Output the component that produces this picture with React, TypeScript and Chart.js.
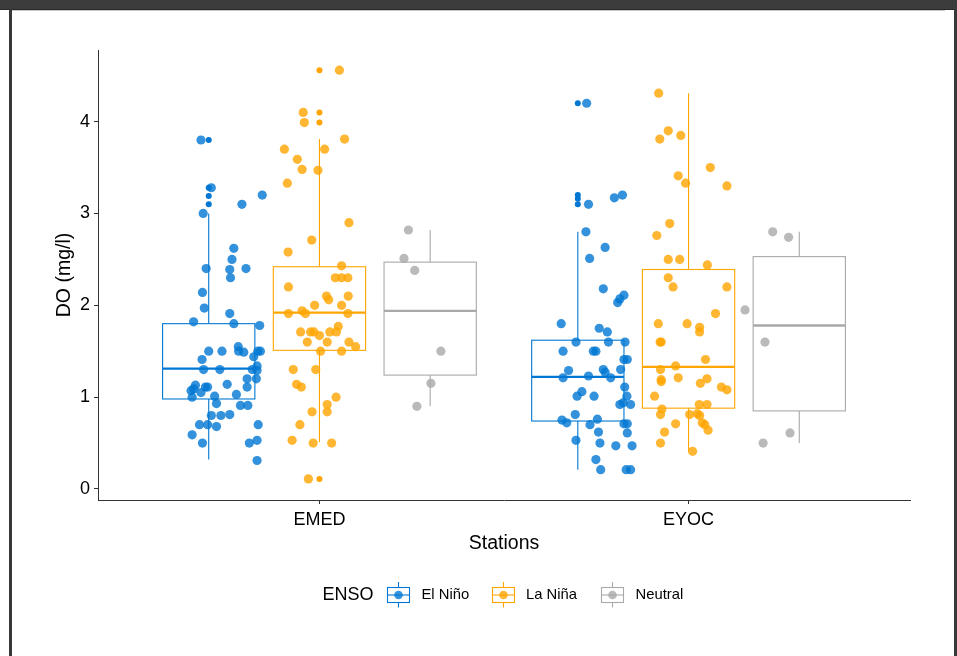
import React, { useEffect, useRef } from "react";
import { Chart, registerables } from "chart.js";

Chart.register(...registerables);

// ---------- data ----------
const stations = ["EMED", "EYOC"];
const ensoGroups = ["El Niño", "La Niña", "Neutral"];
const ensoColors = ["#0077D2", "#FFA500", "#A9A9A9"];
const ensoPointColors = ["rgba(0,119,210,0.8)", "rgba(255,165,0,0.8)", "rgba(169,169,169,0.8)"];
const yTickValues = [0, 1, 2, 3, 4];
const yLabel = "DO (mg/l)";
const xLabel = "Stations";
const legendTitle = "ENSO";

// box statistics: [group][station]  (station 0 = EMED, 1 = EYOC)
const whiskerLow = [[0.32, 0.21], [0.51, 0.41], [0.9, 0.5]];
const quartile1 = [[0.98, 0.74], [1.51, 0.88], [1.24, 0.85]];
const medians = [[1.31, 1.22], [1.92, 1.33], [1.94, 1.78]];
const quartile3 = [[1.8, 1.62], [2.42, 2.39], [2.47, 2.53]];
const whiskerHigh = [[3.0, 2.8], [3.81, 4.31], [2.82, 2.8]];
const outliersEMED = [[3.8, 3.28, 3.19, 3.1], [4.56, 4.1, 3.99, 0.11], []];
const outliersEYOC = [[4.2, 3.2, 3.16, 3.1], [], []];

// jittered observations (DO value, jitter offset in category units)
const emedElNinoDO = [3.8, 3.28, 3.2, 3.1, 3.0, 2.62, 2.5, 2.4, 2.39, 2.4, 2.3, 2.14, 1.97, 1.91, 1.82, 1.8, 1.78, 1.5, 1.5, 1.55, 1.5, 1.49, 1.5, 1.5, 1.44, 1.41, 1.3, 1.3, 1.3, 1.34, 1.29, 1.2, 1.2, 1.11, 1.13, 1.09, 1.07, 1.11, 1.11, 1.05, 1.0, 1.14, 1.03, 1.01, 0.93, 0.91, 0.91, 0.8, 0.8, 0.81, 0.7, 0.7, 0.68, 0.7, 0.59, 0.5, 0.5, 0.53, 0.31];
const emedElNinoJitter = [-0.021, 0.007, 0.145, 0.09, -0.015, 0.068, 0.063, -0.007, 0.057, 0.101, 0.059, -0.017, -0.012, 0.057, -0.041, 0.068, 0.138, 0.0, 0.036, 0.08, 0.081, 0.095, 0.14, 0.133, 0.122, -0.018, -0.014, 0.03, 0.118, 0.131, 0.131, 0.129, 0.104, 0.104, -0.036, -0.041, -0.048, -0.009, -0.003, -0.021, -0.045, 0.05, 0.075, 0.016, 0.021, 0.086, 0.106, 0.007, 0.033, 0.057, -0.025, -0.003, 0.021, 0.134, -0.045, -0.017, 0.11, 0.131, 0.131];

const emedLaNinaDO = [4.56, 4.1, 3.99, 3.81, 3.7, 3.7, 3.59, 3.48, 3.47, 3.33, 2.9, 2.71, 2.58, 2.43, 2.3, 2.3, 2.3, 2.2, 2.1, 2.06, 2.1, 2.0, 2.0, 1.94, 1.91, 1.91, 1.91, 1.77, 1.71, 1.71, 1.71, 1.67, 1.71, 1.71, 1.6, 1.6, 1.6, 1.55, 1.5, 1.5, 1.3, 1.3, 1.14, 1.11, 1.0, 0.92, 0.84, 0.84, 0.7, 0.53, 0.5, 0.5, 0.11];
const emedLaNinaJitter = [0.054, -0.044, -0.041, 0.068, -0.095, 0.014, -0.06, -0.047, -0.004, -0.087, 0.08, -0.021, -0.085, 0.06, 0.043, 0.06, 0.077, -0.084, 0.019, 0.025, 0.078, -0.013, 0.06, -0.047, -0.038, -0.084, 0.077, 0.051, -0.051, -0.024, -0.015, 0.0, 0.028, 0.046, -0.033, 0.021, 0.08, 0.098, 0.003, 0.06, -0.071, -0.01, -0.062, -0.049, 0.045, 0.021, 0.021, -0.02, -0.053, -0.074, -0.017, 0.033, -0.03];

const emedNeutralDO = [2.82, 2.51, 2.38, 1.5, 1.15, 0.9];
const emedNeutralJitter = [-0.059, -0.071, -0.042, 0.029, 0.002, -0.036];

const eyocElNinoDO = [4.2, 3.17, 3.2, 3.1, 2.8, 2.63, 2.51, 2.18, 2.11, 2.07, 2.03, 1.8, 1.75, 1.71, 1.6, 1.6, 1.6, 1.5, 1.5, 1.5, 1.41, 1.41, 1.29, 1.3, 1.3, 1.27, 1.21, 1.23, 1.21, 1.11, 1.06, 1.01, 1.01, 1.01, 0.92, 0.94, 0.92, 0.75, 0.72, 0.81, 0.76, 0.7, 0.71, 0.71, 0.62, 0.61, 0.53, 0.5, 0.47, 0.47, 0.32, 0.21, 0.21, 0.21];
const eyocElNinoJitter = [0.024, 0.099, 0.121, 0.029, 0.022, 0.074, 0.032, 0.069, 0.125, 0.114, 0.108, -0.045, 0.058, 0.08, -0.005, 0.083, 0.128, -0.04, 0.042, 0.049, 0.125, 0.134, -0.025, 0.069, 0.116, 0.074, -0.04, 0.029, 0.089, 0.127, 0.011, -0.002, 0.044, 0.133, 0.114, 0.123, 0.143, -0.043, -0.03, -0.007, 0.053, 0.033, 0.125, 0.134, 0.056, 0.134, -0.005, 0.06, 0.103, 0.147, 0.049, 0.062, 0.131, 0.143];

const eyocLaNinaDO = [4.31, 3.9, 3.81, 3.85, 3.5, 3.41, 3.33, 3.3, 2.89, 2.76, 2.5, 2.5, 2.44, 2.3, 2.2, 2.2, 1.91, 1.8, 1.8, 1.76, 1.71, 1.6, 1.6, 1.41, 1.34, 1.3, 1.19, 1.17, 1.21, 1.15, 1.2, 1.11, 1.08, 1.01, 0.81, 0.87, 0.92, 0.92, 0.81, 0.82, 0.8, 0.72, 0.7, 0.64, 0.71, 0.62, 0.5, 0.41];
const eyocLaNinaJitter = [-0.081, -0.055, -0.078, -0.021, 0.059, -0.028, -0.008, 0.104, -0.051, -0.086, -0.055, -0.024, 0.051, -0.055, -0.042, 0.104, 0.073, -0.082, -0.004, 0.03, 0.03, -0.077, -0.074, 0.046, -0.035, -0.076, -0.074, -0.074, -0.028, 0.032, 0.05, 0.089, 0.104, -0.092, -0.076, -0.072, 0.029, 0.05, 0.003, 0.024, 0.03, 0.037, 0.044, 0.053, -0.035, -0.065, -0.076, 0.011];

const eyocNeutralDO = [2.8, 2.74, 1.95, 1.6, 0.5, 0.61];
const eyocNeutralJitter = [-0.072, -0.029, -0.147, -0.093, -0.098, -0.025];

// ---------- layout constants ----------
const W = 957;
const H = 656;
const DODGE = 0.3;
const BOX_W = 0.25;
const FONT = '"Liberation Sans", Arial, sans-serif';

const groupValues = [
  [emedElNinoDO, eyocElNinoDO],
  [emedLaNinaDO, eyocLaNinaDO],
  [emedNeutralDO, eyocNeutralDO],
];
const groupJitter = [
  [emedElNinoJitter, eyocElNinoJitter],
  [emedLaNinaJitter, eyocLaNinaJitter],
  [emedNeutralJitter, eyocNeutralJitter],
];
const outliers = [outliersEMED, outliersEYOC];

const boxPlugin = {
  id: "boxes",
  beforeDatasetsDraw(chart: any) {
    const { ctx, scales } = chart;
    const x = scales.x;
    const y = scales.y;
    ctx.save();
    for (let s = 0; s < stations.length; s++) {
      for (let g = 0; g < ensoGroups.length; g++) {
        const c = s + 1 + (g - 1) * DODGE;
        const xl = x.getPixelForValue(c - BOX_W / 2);
        const xr = x.getPixelForValue(c + BOX_W / 2);
        const xc = x.getPixelForValue(c);
        const pLow = y.getPixelForValue(whiskerLow[g][s]);
        const pQ1 = y.getPixelForValue(quartile1[g][s]);
        const pMed = y.getPixelForValue(medians[g][s]);
        const pQ3 = y.getPixelForValue(quartile3[g][s]);
        const pHigh = y.getPixelForValue(whiskerHigh[g][s]);
        ctx.strokeStyle = ensoColors[g];
        ctx.lineWidth = 1.1;
        ctx.beginPath();
        ctx.moveTo(xc, pHigh);
        ctx.lineTo(xc, pQ3);
        ctx.moveTo(xc, pQ1);
        ctx.lineTo(xc, pLow);
        ctx.stroke();
        ctx.fillStyle = "#ffffff";
        ctx.fillRect(xl, pQ3, xr - xl, pQ1 - pQ3);
        ctx.strokeRect(xl, pQ3, xr - xl, pQ1 - pQ3);
        ctx.lineWidth = 2.3;
        ctx.beginPath();
        ctx.moveTo(xl, pMed);
        ctx.lineTo(xr, pMed);
        ctx.stroke();
        ctx.fillStyle = ensoColors[g];
        for (const v of outliers[s][g]) {
          ctx.beginPath();
          ctx.arc(xc, y.getPixelForValue(v), 3, 0, Math.PI * 2);
          ctx.fill();
        }
      }
    }
    ctx.restore();
  },
};

const legendPlugin = {
  id: "ensoLegend",
  afterDraw(chart: any) {
    const { ctx } = chart;
    const cy = 595;
    ctx.save();
    ctx.textBaseline = "middle";
    ctx.textAlign = "left";
    ctx.fillStyle = "#000000";
    ctx.font = `18px ${FONT}`;
    ctx.fillText(legendTitle, 322.5, cy);
    const keyX = [387.5, 492.5, 601.5];
    const textX = [421.5, 526, 635.5];
    ctx.font = `14.8px ${FONT}`;
    for (let g = 0; g < ensoGroups.length; g++) {
      const x0 = keyX[g];
      const kw = 22;
      const xc = x0 + kw / 2;
      ctx.strokeStyle = ensoColors[g];
      ctx.lineWidth = 1.1;
      ctx.beginPath();
      ctx.moveTo(xc, cy - 13);
      ctx.lineTo(xc, cy - 7.5);
      ctx.moveTo(xc, cy + 7.5);
      ctx.lineTo(xc, cy + 12.5);
      ctx.stroke();
      ctx.strokeRect(x0, cy - 7.5, kw, 15);
      ctx.beginPath();
      ctx.moveTo(x0, cy);
      ctx.lineTo(x0 + kw, cy);
      ctx.stroke();
      ctx.fillStyle = ensoPointColors[g];
      ctx.beginPath();
      ctx.arc(xc, cy, 4.3, 0, Math.PI * 2);
      ctx.fill();
      ctx.fillStyle = "#000000";
      ctx.fillText(ensoGroups[g], textX[g], cy);
    }
    ctx.restore();
  },
};

export default function App() {
  const canvasRef = useRef<HTMLCanvasElement | null>(null);

  useEffect(() => {
    if (!canvasRef.current) return;
    const datasets = ensoGroups.map((name, g) => {
      const data: { x: number; y: number }[] = [];
      for (let s = 0; s < stations.length; s++) {
        const vals = groupValues[g][s];
        const jit = groupJitter[g][s];
        for (let i = 0; i < vals.length; i++) {
          data.push({ x: s + 1 + (g - 1) * DODGE + jit[i], y: vals[i] });
        }
      }
      return {
        label: name,
        data,
        backgroundColor: ensoPointColors[g],
        borderWidth: 0,
        pointRadius: 4.6,
        pointHoverRadius: 4.6,
      };
    });

    const chart = new Chart(canvasRef.current, {
      type: "scatter",
      data: { datasets },
      options: {
        animation: false,
        responsive: false,
        devicePixelRatio: 1,
        events: [],
        layout: { padding: { left: 0, right: W - 910, top: 50, bottom: 100 } },
        plugins: {
          legend: { display: false },
          tooltip: { enabled: false },
        },
        scales: {
          x: {
            type: "linear",
            min: 0.4,
            max: 2.6,
            afterBuildTicks: (axis: any) => {
              axis.ticks = stations.map((_, i) => ({ value: i + 1 }));
            },
            afterFit: (scale: any) => {
              scale.height = 56;
            },
            ticks: {
              autoSkip: false,
              maxRotation: 0,
              padding: 5,
              color: "#000000",
              font: { family: FONT, size: 18 },
              callback: (v: any) => stations[Math.round(Number(v)) - 1] ?? "",
            },
            grid: {
              drawOnChartArea: false,
              drawTicks: true,
              tickLength: 4,
              color: "#333333",
              lineWidth: 1,
            },
            border: { display: true, color: "#333333", width: 1 },
            title: {
              display: true,
              text: xLabel,
              color: "#000000",
              font: { family: FONT, size: 19.5 },
              padding: { top: 0, bottom: 1 },
            },
          },
          y: {
            type: "linear",
            min: -0.12,
            max: 4.78,
            afterBuildTicks: (axis: any) => {
              axis.ticks = yTickValues.map((v) => ({ value: v }));
            },
            afterFit: (scale: any) => {
              scale.width = 98;
            },
            ticks: {
              padding: 4,
              color: "#000000",
              font: { family: FONT, size: 18 },
              callback: (v: any) => String(v),
            },
            grid: {
              drawOnChartArea: false,
              drawTicks: true,
              tickLength: 4,
              color: "#333333",
              lineWidth: 1,
            },
            border: { display: true, color: "#333333", width: 1 },
            title: {
              display: true,
              text: yLabel,
              color: "#000000",
              font: { family: FONT, size: 19.5 },
              padding: { top: 53, bottom: 0 },
            },
          },
        },
      },
      plugins: [boxPlugin, legendPlugin],
    } as any);

    return () => {
      chart.destroy();
    };
  }, []);

  return (
    <div style={{ position: "fixed", left: 0, top: 0, width: W, height: H, background: "#ffffff", overflow: "hidden" }}>
      <canvas ref={canvasRef} width={W} height={H} style={{ display: "block", width: W, height: H }} />
      <div style={{ position: "absolute", left: 0, top: 0, width: W, height: 9, background: "#3c3c3c" }} />
      <div style={{ position: "absolute", left: 0, top: 9, width: W, height: 1, background: "#2a2a2a" }} />
      <div style={{ position: "absolute", left: 12, top: 10, width: W - 24, height: 1, background: "#c8c8c8" }} />
      <div style={{ position: "absolute", left: 9, top: 9, width: 3, height: H - 9, background: "#383838" }} />
      <div style={{ position: "absolute", left: 954, top: 9, width: 3, height: H - 9, background: "#383838" }} />
    </div>
  );
}
